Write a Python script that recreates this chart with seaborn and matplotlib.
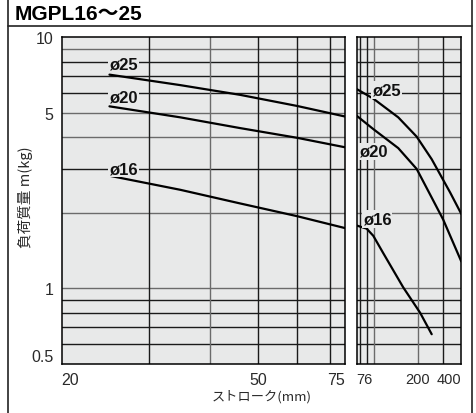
import matplotlib
matplotlib.use("Agg")
import matplotlib.pyplot as plt
from matplotlib.ticker import FixedLocator, NullFormatter, NullLocator
from matplotlib.lines import Line2D
import pandas as pd
import seaborn as sns

sns.set_style("white")
plt.rcParams["font.family"] = ["Liberation Sans", "Noto Sans CJK JP", "DejaVu Sans"]

# ---- data: allowable load mass m (kg) vs. stroke (mm) ----
bores = ["ø16", "ø20", "ø25"]

# stroke 20–75 mm
short_stroke_16 = [25, 34.8, 46, 60, 75]
short_mass_16 = [2.81, 2.47, 2.18, 1.94, 1.74]
short_stroke_20 = [25, 34.8, 46, 60, 75]
short_mass_20 = [5.31, 4.80, 4.35, 3.98, 3.65]
short_stroke_25 = [25, 34.8, 46, 60, 75]
short_mass_25 = [7.10, 6.45, 5.90, 5.33, 4.84]

# stroke 76–400 mm
long_stroke_16 = [76, 89, 98.9, 116, 159, 208, 250]
long_mass_16 = [1.78, 1.73, 1.62, 1.38, 1.01, 0.80, 0.657]
long_stroke_20 = [76, 98.9, 147, 197, 250, 300, 400]
long_mass_20 = [4.87, 4.31, 3.62, 2.99, 2.30, 1.88, 1.28]
long_stroke_25 = [76, 98.9, 147, 197, 250, 335, 400]
long_mass_25 = [6.22, 5.70, 4.80, 4.02, 3.27, 2.41, 1.98]

# label anchor points (stroke, mass) for each bore
short_label_x = [25, 25, 25]
short_label_y = [3.0, 5.8, 7.8]
long_label_x = [83.6, 78.8, 96.5]
long_label_y = [1.89, 3.52, 6.17]

y_ticks = [0.5, 1, 5, 10]
y_tick_labels = ["0.5", "1", "5", "10"]
short_ticks = [20, 50, 75]
long_ticks = [76, 200, 400]

y_grid = [0.6, 0.7, 0.8, 0.9, 1, 2, 3, 4, 5, 6, 7, 8, 9]
y_grid_gray = [1, 2, 4, 5, 9]
short_grid = [30, 40, 50, 60, 70]
long_grid = [80, 90, 100, 200, 300]
x_grid_gray = [40, 100, 200]


def make_frame(xs, ys):
    rows = []
    for bore, x, y in zip(bores, xs, ys):
        for a, b in zip(x, y):
            rows.append({"stroke": a, "mass": b, "bore": bore})
    return pd.DataFrame(rows)


short_df = make_frame([short_stroke_16, short_stroke_20, short_stroke_25],
                      [short_mass_16, short_mass_20, short_mass_25])
long_df = make_frame([long_stroke_16, long_stroke_20, long_stroke_25],
                     [long_mass_16, long_mass_20, long_mass_25])

BG = "#e8e9e9"
GRID_DARK = "#1a1a1a"
GRID_GRAY = "#6b6b6b"
TEXT = "#2a2a2a"

fig = plt.figure(figsize=(4.77, 4.14), dpi=100)
W, H = 477, 414
ax_l = fig.add_axes([61.7 / W, 1 - 365 / H, 283 / W, 326.7 / H])
ax_r = fig.add_axes([356.7 / W, 1 - 365 / H, 104.6 / W, 326.7 / H])

palette = {b: "black" for b in bores}


def style_axes(ax, xlim, xticks, xgrid, df, lx, ly, xsize):
    ax.set_facecolor(BG)
    ax.set_xscale("log")
    ax.set_yscale("log")
    ax.set_xlim(*xlim)
    ax.set_ylim(0.5, 10)
    for v in y_grid:
        ax.axhline(v, color=GRID_GRAY if v in y_grid_gray else GRID_DARK,
                   lw=1.0, zorder=1)
    for v in xgrid:
        ax.axvline(v, color=GRID_GRAY if v in x_grid_gray else GRID_DARK,
                   lw=1.0, zorder=1)
    sns.lineplot(data=df, x="stroke", y="mass", hue="bore", units="bore",
                 estimator=None, sort=False, palette=palette, legend=False,
                 lw=1.6, ax=ax, zorder=3)
    for bore, x, y in zip(bores, lx, ly):
        ax.text(x, y, bore, fontsize=12, fontweight="bold", ha="left",
                va="center", zorder=4, color="#111111",
                bbox=dict(facecolor=BG, edgecolor="none", pad=0.8))
    ax.xaxis.set_major_locator(FixedLocator(xticks))
    ax.xaxis.set_minor_locator(NullLocator())
    ax.xaxis.set_minor_formatter(NullFormatter())
    ax.set_xticklabels([str(t) for t in xticks])
    labels = ax.get_xticklabels()
    labels[0].set_ha("left")
    labels[-1].set_ha("right")
    ax.yaxis.set_minor_locator(NullLocator())
    ax.yaxis.set_minor_formatter(NullFormatter())
    ax.tick_params(axis="both", length=0, labelsize=11.5, pad=6,
                   colors=TEXT)
    ax.tick_params(axis="x", labelsize=xsize)
    ax.set_xlabel("")
    ax.set_ylabel("")
    for s in ax.spines.values():
        s.set_color("black")
        s.set_linewidth(1.1)
        s.set_visible(True)
        s.set_zorder(5)


style_axes(ax_l, (20, 75), short_ticks, short_grid, short_df,
           short_label_x, short_label_y, 11.5)
style_axes(ax_r, (76, 400), long_ticks, long_grid, long_df,
           long_label_x, long_label_y, 10.5)

ax_l.yaxis.set_major_locator(FixedLocator(y_ticks))
ax_l.set_yticklabels(y_tick_labels)
ax_l.get_yticklabels()[0].set_va("bottom")
ax_r.yaxis.set_major_locator(FixedLocator(y_ticks))
ax_r.set_yticklabels([])

# axis titles
fig.text(25 / W, 1 - 197 / H, "負荷質量 m(kg)", rotation=90, ha="center",
         va="center", fontsize=10.5, color=TEXT,
         family=["Noto Sans CJK JP", "DejaVu Sans"])
fig.text(261.5 / W, 1 - 397 / H, "ストローク(mm)", ha="center", va="center",
         fontsize=9.5, color=TEXT,
         family=["Noto Sans CJK JP", "DejaVu Sans"])

# header and outer frame
fig.text(15 / W, 1 - 14 / H, "MGPL16〜25", ha="left", va="center",
         fontsize=15, fontweight="bold", color="black",
         family=["Liberation Sans", "Noto Sans CJK JP", "DejaVu Sans"])
fig.add_artist(Line2D([8 / W, 8 / W], [0, 1], color="#222222", lw=1.2))
fig.add_artist(Line2D([472 / W, 472 / W], [0, 1], color="#222222", lw=1.2))
fig.add_artist(Line2D([8 / W, 472 / W], [1 - 27 / H, 1 - 27 / H],
                      color="#222222", lw=1.2))

fig.savefig("out.png", dpi=100)
